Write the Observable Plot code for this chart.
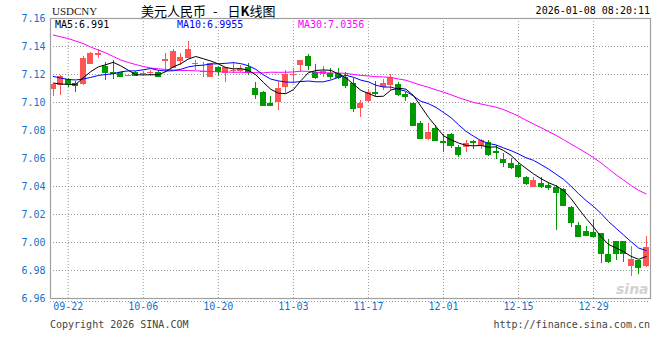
<!DOCTYPE html>
<html><head><meta charset="utf-8">
<script src="https://cdn.jsdelivr.net/npm/d3@7"></script>
<script src="https://cdn.jsdelivr.net/npm/@observablehq/plot@0.6"></script>
<style>
body{margin:0;background:#fff;}
#wrap{position:relative;width:660px;height:360px;overflow:hidden;background:#fff;}
.t{position:absolute;white-space:nowrap;line-height:1;}
.m{font-family:"DejaVu Sans Mono",monospace;font-size:10px;}
</style></head><body>
<div id="wrap">
  <div id="chart" style="position:absolute;left:0;top:0"></div>
  <div class="t" style="left:52px;top:6px;font-family:'Liberation Serif',serif;font-size:11px;color:#222">USDCNY</div>
  <div class="t" style="left:141px;top:4px;font-family:'Noto Sans CJK SC',sans-serif;font-size:13px;line-height:13px;color:#000">美元人民币<span style="margin-left:7px">-</span><span style="margin-left:10px">日<b>K</b>线图</span></div>
  <div class="t m" style="right:10px;top:6px;color:#000">2026-01-08 08:20:11</div>
  <div id="maRow"></div>
  <div class="t m" style="left:50px;top:320px;color:#444">Copyright 2026 SINA.COM</div>
  <div class="t m" style="right:10px;top:320px;color:#444">http://finance.sina.com.cn</div>
  <div class="t" style="left:616px;top:282px;font-family:'DejaVu Sans',sans-serif;font-style:italic;font-weight:bold;font-size:14px;color:#d8d0d0">sina</div>
</div>
<script>
// ---- data ----
const dates = ("09-18 09-19 09-22 09-23 09-24 09-25 09-26 09-29 09-30 10-01 10-02 10-03 " +
  "10-06 10-07 10-08 10-09 10-10 10-13 10-14 10-15 10-16 10-17 10-20 10-21 10-22 10-23 10-24 " +
  "10-27 10-28 10-29 10-30 10-31 11-03 11-04 11-05 11-06 11-07 11-10 11-11 11-12 11-13 11-14 " +
  "11-17 11-18 11-19 11-20 11-21 11-24 11-25 11-26 11-27 11-28 12-01 12-02 12-03 12-04 12-05 " +
  "12-08 12-09 12-10 12-11 12-12 12-15 12-16 12-17 12-18 12-19 12-22 12-23 12-24 12-25 12-26 " +
  "12-29 12-30 12-31 01-02 01-05 01-06 01-07 01-08").split(" ");

const open = [7.1091,7.1121,7.1162,7.1138,7.1129,7.1275,7.1336,7.1257,7.1216,7.1212,
  7.1189,7.1216,7.1200,7.1204,7.1216,7.1295,7.1241,7.1295,7.1312,7.1275,
  7.1211,7.1181,7.1250,7.1205,7.1221,7.1225,7.1252,7.1098,7.1074,7.0995,
  7.1002,7.1109,7.1193,7.1266,7.1330,7.1214,7.1200,7.1205,7.1205,7.1181,
  7.1136,7.0955,7.1009,7.1075,7.1105,7.1121,7.1129,7.1054,7.0995,7.0852,
  7.0736,7.0812,7.0724,7.0771,7.0676,7.0676,7.0721,7.0686,7.0716,7.0650,
  7.0596,7.0564,7.0550,7.0461,7.0395,7.0424,7.0407,7.0395,7.0376,7.0250,
  7.0121,7.0081,7.0071,7.0064,6.9914,7.0007,7.0007,6.9829,6.9871,6.9829];
const high = [7.1132,7.1193,7.1174,7.1150,7.1331,7.1357,7.1379,7.1286,7.1300,7.1214,
  7.1196,7.1221,7.1224,7.1229,7.1221,7.1348,7.1376,7.1348,7.1436,7.1300,
  7.1286,7.1281,7.1254,7.1250,7.1288,7.1261,7.1276,7.1143,7.1079,7.1043,
  7.1150,7.1229,7.1243,7.1300,7.1343,7.1271,7.1254,7.1241,7.1241,7.1211,
  7.1169,7.1014,7.1091,7.1150,7.1164,7.1200,7.1145,7.1074,7.1002,7.0864,
  7.0852,7.0836,7.0771,7.0781,7.0693,7.0729,7.0729,7.0734,7.0729,7.0696,
  7.0634,7.0598,7.0566,7.0475,7.0462,7.0462,7.0429,7.0407,7.0384,7.0257,
  7.0145,7.0114,7.0162,7.0064,7.0018,7.0007,7.0007,6.9971,6.9871,7.0041];
const low = [7.1045,7.1050,7.1105,7.1074,7.1121,7.1268,7.1312,7.1157,7.1162,7.1186,
  7.1186,7.1190,7.1193,7.1189,7.1182,7.1216,7.1241,7.1264,7.1312,7.1232,
  7.1181,7.1179,7.1189,7.1145,7.1205,7.1216,7.1193,7.1021,7.0971,7.0971,
  7.0943,7.1064,7.1136,7.1214,7.1229,7.1162,7.1181,7.1161,7.1161,7.1098,
  7.0931,7.0895,7.1002,7.1043,7.1086,7.1086,7.1043,7.1009,7.0829,7.0741,
  7.0729,7.0721,7.0645,7.0671,7.0604,7.0645,7.0662,7.0662,7.0614,7.0591,
  7.0538,7.0519,7.0455,7.0407,7.0395,7.0384,7.0371,7.0086,7.0257,7.0109,
  7.0034,7.0043,7.0043,6.9852,6.9852,6.9871,6.9859,6.9757,6.9768,6.9819];
const close = [7.1129,7.1186,7.1134,7.1119,7.1314,7.1350,7.1352,7.1214,7.1205,7.1188,
  7.1193,7.1193,7.1207,7.1211,7.1186,7.1305,7.1364,7.1319,7.1376,7.1279,
  7.1225,7.1281,7.1218,7.1248,7.1229,7.1236,7.1218,7.1057,7.0979,7.0979,
  7.1100,7.1200,7.1200,7.1300,7.1264,7.1181,7.1218,7.1184,7.1176,7.1121,
  7.0957,7.0995,7.1074,7.1064,7.1134,7.1179,7.1057,7.1043,7.0836,7.0745,
  7.0788,7.0729,7.0714,7.0693,7.0629,7.0705,7.0711,7.0729,7.0629,7.0641,
  7.0574,7.0538,7.0471,7.0424,7.0443,7.0402,7.0395,7.0359,7.0264,7.0145,
  7.0043,7.0050,7.0045,6.9924,6.9866,6.9919,6.9919,6.9876,6.9819,6.9964];

// moving-average values at the left edge (their earlier closes are off the chart)
const ma5Head = [7.1139,7.1132,7.1129,7.1129];
const ma10Head = [7.1186,7.1175,7.1164,7.1161,7.1168,7.1179,7.1193,7.1200,7.1205];
const ma30Head = [7.1482,7.1469,7.1457,7.1439,7.1421,7.1396,7.1375,7.1354,7.1329,7.1304,
  7.1286,7.1271,7.1257,7.1246,7.1241,7.1236,7.1232,7.1229,7.1229,7.1226,
  7.1224,7.1221,7.1219,7.1218,7.1216,7.1216,7.1214,7.1213,7.1212];

const maLabels = ["MA5:6.991", "MA10:6.9955", "MA30:7.0356"];
const yTicks = [6.96, 6.98, 7.00, 7.02, 7.04, 7.06, 7.08, 7.10, 7.12, 7.14, 7.16];
const xTickLabels = ["09-22", "10-06", "10-20", "11-03", "11-17", "12-01", "12-15", "12-29"];

// ---- build ----
const UP = "#ff5555", DOWN = "#009a00", AXIS = "#1473c8", GRID = "#9a9a9a";
const movingAvg = (n, head) => close.map((c, i) =>
  i < n - 1 ? head[i] : d3.mean(close.slice(i - n + 1, i + 1)));
const ma5 = movingAvg(5, ma5Head), ma10 = movingAvg(10, ma10Head), ma30 = movingAvg(30, ma30Head);

const data = dates.map((d, i) => ({
  i, date: d, open: open[i], high: high[i], low: low[i], close: close[i],
  ma5: ma5[i], ma10: ma10[i], ma30: ma30[i],
  color: close[i] >= open[i] ? UP : DOWN
}));
const xTicks = xTickLabels.map(l => dates.indexOf(l));

const chart = Plot.plot({
  width: 660, height: 360,
  marginLeft: 50, marginRight: 10, marginTop: 18, marginBottom: 62,
  x: {type: "linear", domain: [-0.36, 79.58], axis: null},
  y: {type: "linear", domain: [6.96, 7.16], axis: null},
  style: {fontFamily: "'DejaVu Sans Mono', monospace", fontSize: "10px", background: "#fff", overflow: "visible"},
  marks: [
    Plot.ruleY(yTicks.slice(1, -1), {stroke: GRID, strokeDasharray: "1,2", strokeWidth: 1}),
    Plot.ruleX(xTicks, {stroke: GRID, strokeDasharray: "1,2", strokeWidth: 1}),
    Plot.ruleY([yTicks[0]], {dy: 3, stroke: GRID, strokeDasharray: "1,2", strokeWidth: 1}),
    Plot.ruleX(data, {x: "i", y1: "low", y2: "high", stroke: "color", strokeWidth: 1, shapeRendering: "crispEdges"}),
    Plot.rect(data, {x1: d => d.i - 0.4, x2: d => d.i + 0.4, y1: "open", y2: "close", fill: "color", shapeRendering: "crispEdges"}),
    Plot.ruleY(data, {y: "close", x1: d => d.i - 0.4, x2: d => d.i + 0.4, stroke: "color", strokeWidth: 1, shapeRendering: "crispEdges"}),
    Plot.line(data, {x: "i", y: "ma30", stroke: "#ff00ff", strokeWidth: 1}),
    Plot.line(data, {x: "i", y: "ma10", stroke: "#0000ff", strokeWidth: 1}),
    Plot.line(data, {x: "i", y: "ma5", stroke: "#000000", strokeWidth: 1}),
    Plot.frame({stroke: "#a0a0a0", strokeWidth: 1.2}),
    Plot.text(yTicks, {y: d => d, text: d => d.toFixed(2), frameAnchor: "left", textAnchor: "end", dx: -5, fill: AXIS}),
    Plot.text(xTicks, {x: d => d, text: (d, k) => xTickLabels[k], frameAnchor: "bottom", dy: 11, fill: AXIS})
  ]
});
document.getElementById("chart").appendChild(chart);

// MA legend row inside the top of the plot
const maColors = ["#000000", "#0000ff", "#ff00ff"];
const maLeft = [55, 177, 298];
const row = document.getElementById("maRow");
maLabels.forEach((s, k) => {
  const el = document.createElement("div");
  el.className = "t m";
  el.style.left = maLeft[k] + "px";
  el.style.top = "20px";
  el.style.color = maColors[k];
  el.textContent = s;
  row.appendChild(el);
});
</script>
</body></html>
